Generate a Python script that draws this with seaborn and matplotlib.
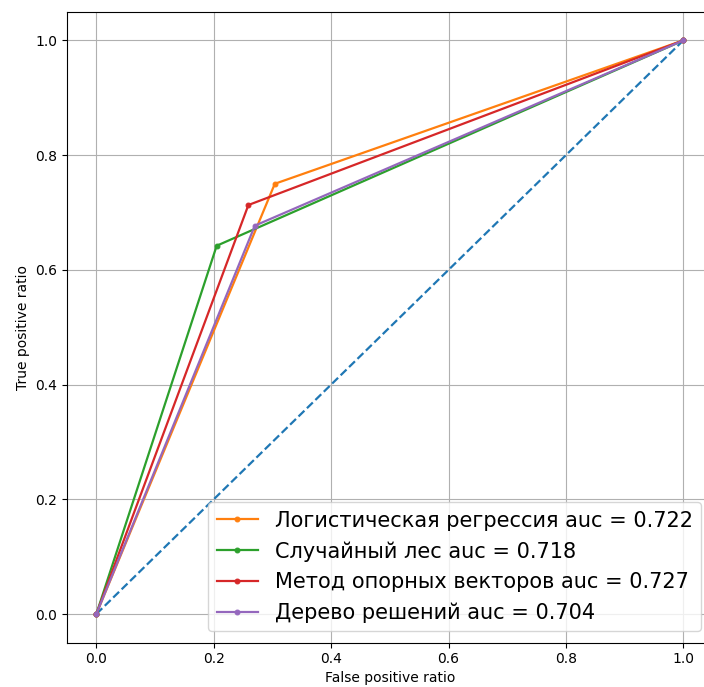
import matplotlib
matplotlib.use("Agg")
import matplotlib.pyplot as plt
import seaborn as sns
import pandas as pd

models = ["Логистическая регрессия", "Случайный лес", "Метод опорных векторов", "Дерево решений"]
aucs = [0.722, 0.718, 0.727, 0.704]
fpr = [[0.0, 0.304, 1.0], [0.0, 0.205, 1.0], [0.0, 0.259, 1.0], [0.0, 0.270, 1.0]]
tpr = [[0.0, 0.750, 1.0], [0.0, 0.642, 1.0], [0.0, 0.713, 1.0], [0.0, 0.677, 1.0]]
diag_x = [0.0, 1.0]
diag_y = [0.0, 1.0]
colors = ["#ff7f0e", "#2ca02c", "#d62728", "#9467bd"]

fig = plt.figure(figsize=(7.04, 6.87), dpi=100)
W, H = 704, 687
left, right, top, bottom = 67, 712.7, 11.7, 642.7
ax = fig.add_axes([left / W, (H - bottom) / H, (right - left) / W, (bottom - top) / H])

sns.lineplot(x=diag_x, y=diag_y, ax=ax, linestyle="--", color="#1f77b4", linewidth=1.6)
for m, a, fx, ty, c in zip(models, aucs, fpr, tpr, colors):
    df = pd.DataFrame({"x": fx, "y": ty})
    sns.lineplot(data=df, x="x", y="y", ax=ax, marker=".", markersize=7, color=c,
                 linewidth=1.6, sort=False, label=f"{m} auc = {a:.3f}",
                 markeredgecolor=c)

ax.set_xlim(-0.05, 1.05)
ax.set_ylim(-0.05, 1.05)
ax.set_xticks([0.0, 0.2, 0.4, 0.6, 0.8, 1.0])
ax.set_yticks([0.0, 0.2, 0.4, 0.6, 0.8, 1.0])
ax.tick_params(labelsize=10)
ax.grid(True, color="#b0b0b0", linewidth=0.8)
ax.set_xlabel("False positive ratio", fontsize=10, labelpad=3)
ax.set_ylabel("True positive ratio", fontsize=10)
ax.legend(loc="lower right", fontsize=15, borderaxespad=0.55, handlelength=2.0)

fig.savefig("out.png", dpi=100)
